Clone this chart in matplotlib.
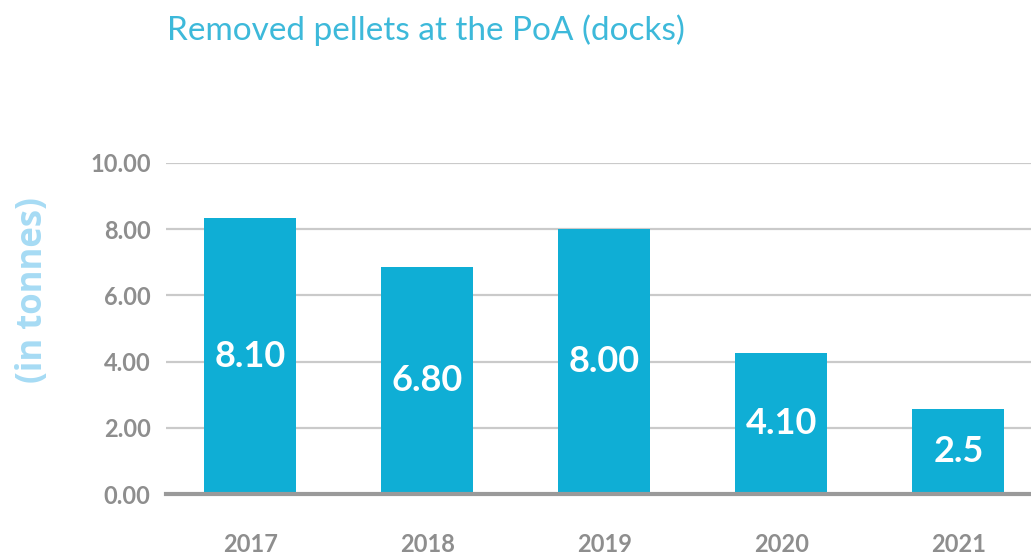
import numpy as np
import matplotlib.pyplot as plt

## Data #######################################################
years   = ['2017', '2018', '2019', '2020', '2021']
heights = [8.33, 6.86, 8.00, 4.26, 2.57]      # bar heights as drawn
labels  = ['8.10', '6.80', '8.00', '4.10', '2.5']  # printed values
yticks  = [0, 2, 4, 6, 8, 10]
## Style ######################################################
barCol   = '#0FAED5'
titleCol = '#3DB9DA'
ylabCol  = '#A6DBF4'
tickCol  = '#8E8E8E'
gridCol  = '#CACACA'

fig = plt.figure(figsize=(10.31, 5.60), dpi=100)
ax  = fig.add_axes([166/1031, 1-494/560, 1-166/1031, (494-163)/560])

x = np.arange(len(years))
ax.bar(x, heights, width=0.52, color=barCol, zorder=3)
for xi, h, lab in zip(x, heights, labels):
    ax.text(xi, h/2, lab, ha='center', va='center', color='white',
            fontsize=26, fontweight='bold', family='Lato', zorder=4)

ax.set_xlim(-0.475, 4.41)
ax.set_ylim(0, 10)
ax.set_yticks(yticks)
ax.set_yticklabels(['%.2f' % v for v in yticks])
ax.set_xticks(x)
ax.set_xticklabels(years)
ax.tick_params(length=0, colors=tickCol, labelsize=17)
ax.tick_params(axis='y', pad=11)
ax.tick_params(axis='x', pad=28)
for t in ax.get_xticklabels() + ax.get_yticklabels():
    t.set_fontweight('bold')
    t.set_family('Lato')

ax.yaxis.grid(True, color=gridCol, linewidth=1.6, zorder=0)
for s in ['top', 'right', 'left']:
    ax.spines[s].set_visible(False)
ax.spines['bottom'].set_color('#9A9A9A')
ax.spines['bottom'].set_linewidth(3)
ax.spines['bottom'].set_zorder(5)

fig.text(167/1031, 1-30/560, 'Removed pellets at the PoA (docks)', color=titleCol,
         fontsize=24, family='Lato', ha='left', va='center')
fig.text(33/1031, 1-290/560, '(in tonnes)', color=ylabCol, fontsize=25,
         fontweight='bold', family='Open Sans', rotation=90, ha='center', va='center')

plt.savefig('out.png', dpi=100)
